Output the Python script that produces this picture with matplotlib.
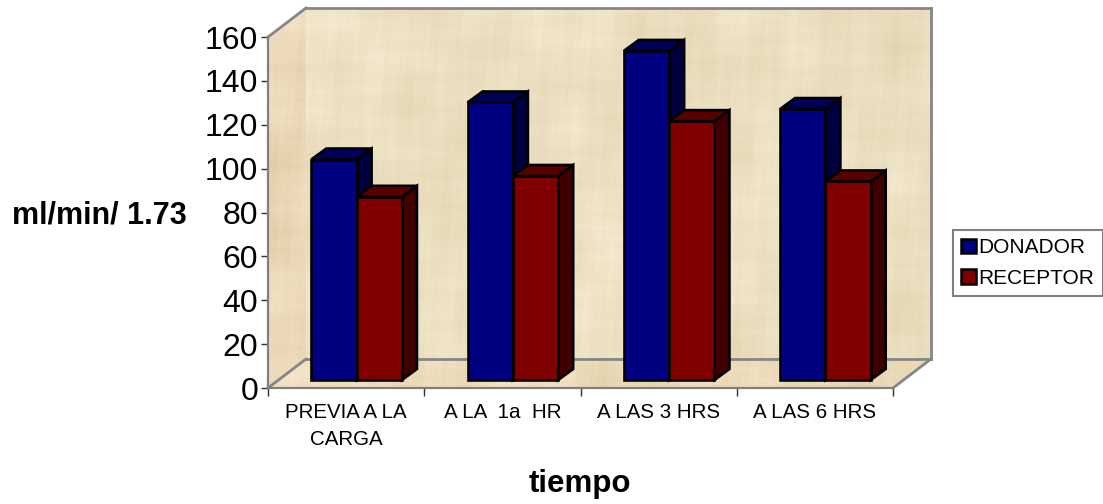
import numpy as np
import matplotlib
matplotlib.use("Agg")
import matplotlib.pyplot as plt
from matplotlib.patches import Polygon, Patch

categories = ["PREVIA A LA\nCARGA", "A LA  1a  HR", "A LAS 3 HRS", "A LAS 6 HRS"]
donador = [100.5, 126.5, 150, 123.5]
receptor = [83.5, 93, 118, 90.5]
yticks = list(range(0, 161, 20))
series_names = ["DONADOR", "RECEPTOR"]

plt.rcParams['font.family'] = ['Liberation Sans', 'DejaVu Sans']
W, H = 1103, 504
fig = plt.figure(figsize=(W/100, H/100), dpi=100)
ax = fig.add_axes([268/W, 1-388/H, 625/W, 351/H])
ax.set_xlim(0, 4)
ax.set_ylim(0, 160)

# 3D box geometry, expressed in data units
DX, DY = 38/156.25, 29/2.194
BW = 0.29
BDX, BDY = 15/156.25, 11/2.194
ZX, ZY = 10.5/156.25, 8/2.194

def texture(shape, base, amp):
    ny, nx = shape
    y, x = np.mgrid[0:ny, 0:nx]
    t = np.zeros(shape, float)
    for fx, fy, ph, a in [(.031, .047, .3, 1.0), (.073, .021, 1.7, .8), (.13, .11, 2.9, .6),
                          (.27, .19, .9, .45), (.41, .37, 4.1, .4), (.83, .71, 5.2, .3),
                          (1.31, 1.13, 3.3, .3), (.017, .009, .7, 1.2)]:
        t += a*np.sin(fx*x + fy*y + ph)*np.sin(fy*1.3*x - fx*.7*y + ph*2)
    t /= np.abs(t).max()
    return np.clip(np.stack([(base[i] + amp*t*(1.0 if i < 2 else 1.5))/255 for i in range(3)], axis=-1), 0, 1)

def textured(pts, tex):
    pts = np.array(pts)
    im = ax.imshow(tex, extent=[pts[:, 0].min(), pts[:, 0].max(), pts[:, 1].min(), pts[:, 1].max()],
                   aspect='auto', zorder=1, interpolation='bilinear')
    clip = Polygon(pts, transform=ax.transData, facecolor='none', edgecolor='none')
    ax.add_patch(clip)
    im.set_clip_box(fig.bbox)
    im.set_clip_path(clip)

back = [(DX, DY), (4+DX, DY), (4+DX, 160+DY), (DX, 160+DY)]
left = [(0, 0), (DX, DY), (DX, 160+DY), (0, 160)]
floor = [(0, 0), (4, 0), (4+DX, DY), (DX, DY)]
textured(back, texture((351, 625), (236, 224, 194), 13))
textured(left, texture((380, 38), (233, 215, 182), 13))
textured(floor, texture((29, 663), (236, 219, 186), 12))
ax.set_xlim(0, 4)
ax.set_ylim(0, 160)

GRAY = '#868686'
for seg in ([left[0], left[1]], [left[1], back[0]], [back[0], back[1]], [back[1], back[2]],
            [back[2], back[3]], [back[3], left[3]], [(4, 0), back[1]]):
    xs, ys = zip(*seg)
    ax.plot(xs, ys, color=GRAY, lw=2.0, zorder=2, clip_on=False, solid_capstyle='projecting')

def bar3d(x0, v, front, top, side):
    x0 += ZX
    x1 = x0 + BW
    y0, y1 = ZY, ZY + v
    kw = dict(edgecolor='black', lw=1.9, joinstyle='miter', zorder=3 + x0*0.01, clip_on=False)
    ax.add_patch(Polygon([(x1, y0), (x1+BDX, y0+BDY), (x1+BDX, y1+BDY), (x1, y1)], facecolor=side, **kw))
    ax.add_patch(Polygon([(x0, y1), (x1, y1), (x1+BDX, y1+BDY), (x0+BDX, y1+BDY)], facecolor=top, **kw))
    ax.add_patch(Polygon([(x0, y0), (x1, y0), (x1, y1), (x0, y1)], facecolor=front, **kw))

for i, (a, b) in enumerate(zip(donador, receptor)):
    c = i + 0.5
    bar3d(c - BW, a, '#000080', '#000058', '#000040')
    bar3d(c, b, '#800000', '#580000', '#400000')

ax.set_facecolor('none')
for s in ('top', 'right'):
    ax.spines[s].set_visible(False)
for s in ('left', 'bottom'):
    ax.spines[s].set_color('#808080')
    ax.spines[s].set_linewidth(1.6)
    ax.spines[s].set_zorder(2.5)
ax.set_yticks(yticks)
ax.tick_params(axis='y', labelsize=23, length=5, width=1, color='#303030', pad=2)
ax.set_xticks(range(5))
ax.set_xticklabels([])
ax.tick_params(axis='x', length=6, width=1, color='#303030')
ax.set_xticks([i + 0.5 for i in range(4)], minor=True)
ax.set_xticklabels(categories, minor=True, fontsize=14.8, linespacing=1.5)
ax.tick_params(axis='x', which='minor', length=0, pad=11)

fig.text(99.5/W, 1-215/H, "ml/min/ 1.73", fontsize=22, fontweight='bold', ha='center', va='center')
fig.text(580/W, 1-484/H, "tiempo", fontsize=22.5, fontweight='bold', ha='center', va='center')

handles = [Patch(facecolor='#000080', edgecolor='black', lw=1.8, label=series_names[0]),
           Patch(facecolor='#800000', edgecolor='black', lw=1.8, label=series_names[1])]
leg = fig.legend(handles=handles, loc='upper left', bbox_to_anchor=(952.5/W, 1-230/H), fontsize=15,
                 fancybox=False, framealpha=1, edgecolor='#808080', handlelength=0.72, handleheight=0.72,
                 handletextpad=0.12, borderpad=0.4, labelspacing=0.55, borderaxespad=0)
leg.get_frame().set_linewidth(1.5)

fig.savefig("out.png", dpi=100)
